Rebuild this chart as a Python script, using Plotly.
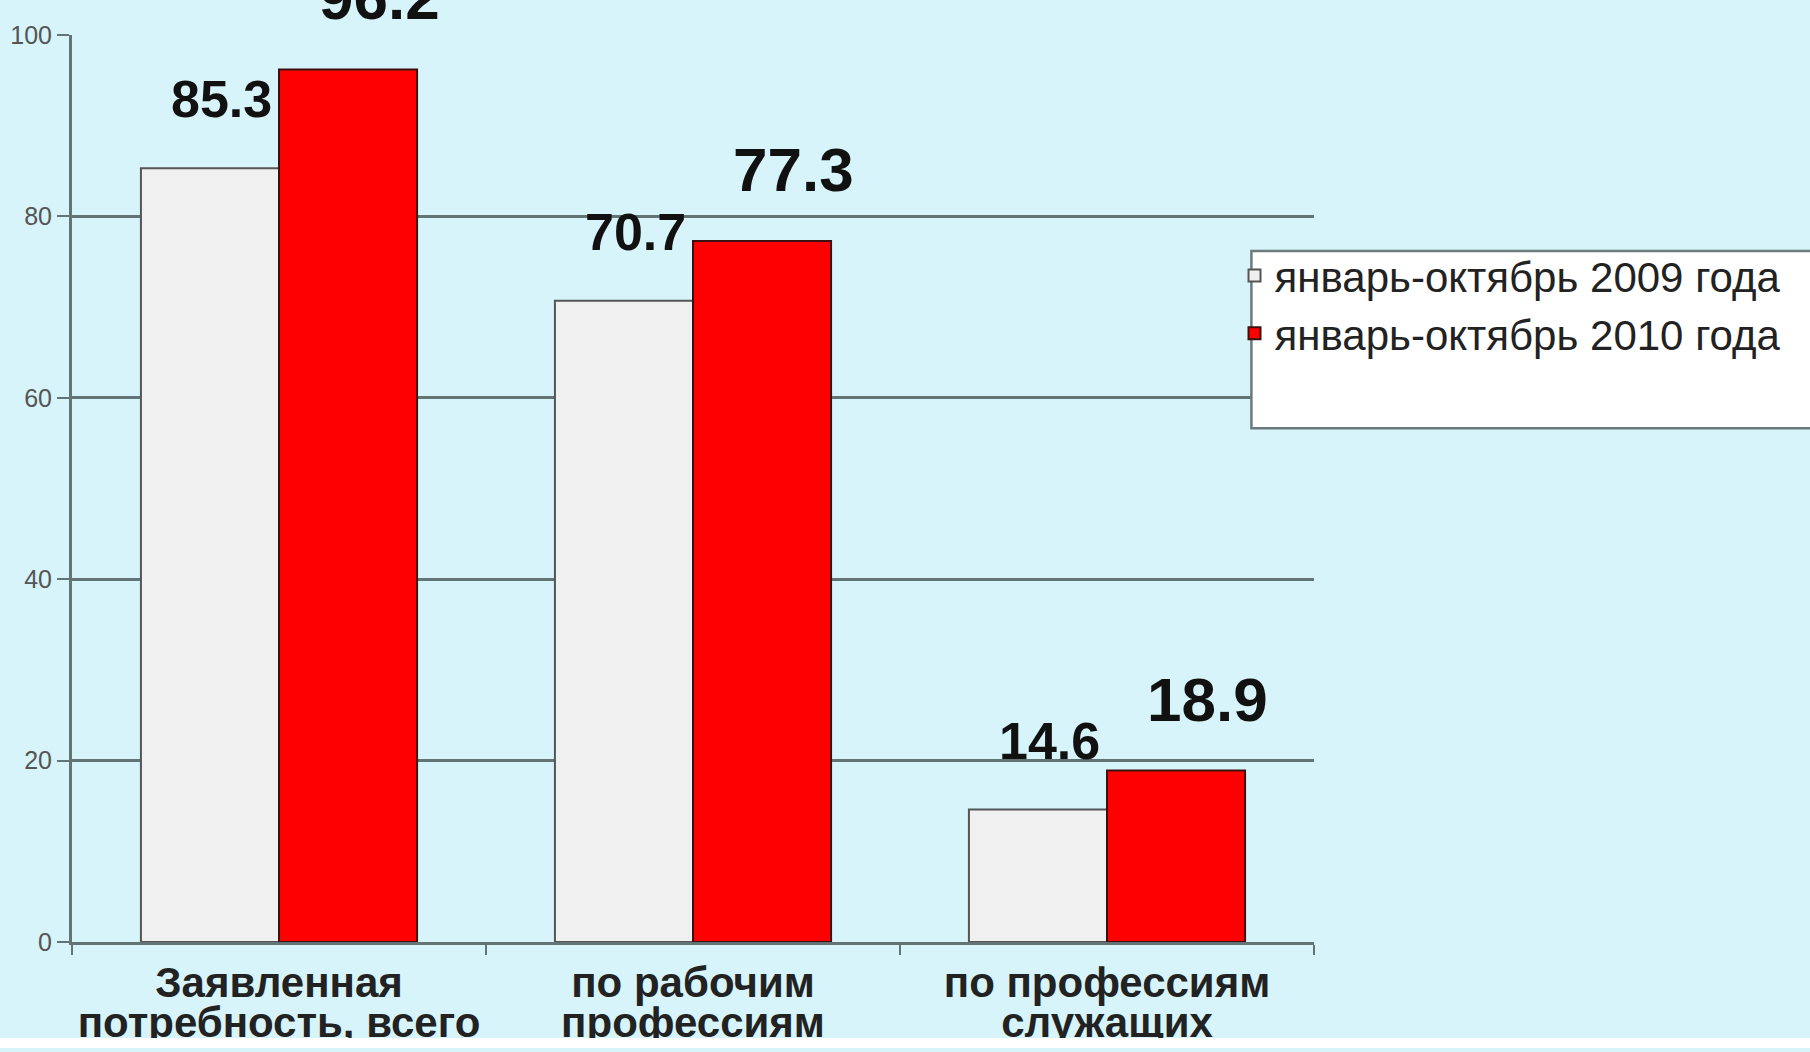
import plotly.graph_objects as go

categories = ["Заявленная потребность, всего", "по рабочим профессиям", "по профессиям служащих"]
tick_line1 = ["Заявленная", "по рабочим", "по профессиям"]
tick_line2 = ["потребность, всего", "профессиям", "служащих"]
series_names = ["январь-октябрь 2009 года", "январь-октябрь 2010 года"]
values_2009 = [85.3, 70.7, 14.6]
values_2010 = [96.2, 77.3, 18.9]
y_ticks = [0, 20, 40, 60, 80, 100]

FONT = "Liberation Sans, Arial, sans-serif"
BG = "#d6f4f9"
GRID = "#627476"
XFONT = dict(family=FONT, size=42, color="#222222", weight="bold")

fig = go.Figure()
fig.add_trace(go.Bar(
    x=categories, y=values_2009, name=series_names[0],
    marker=dict(color="#f0f0f0", line=dict(color="#555555", width=2)),
))
fig.add_trace(go.Bar(
    x=categories, y=values_2010, name=series_names[1],
    marker=dict(color="#ff0000", line=dict(color="#3a1010", width=2)),
))
# invisible helper trace so the second-line category axis is drawn
fig.add_trace(go.Scatter(
    x=categories, y=[0] * len(categories), xaxis="x2", yaxis="y",
    mode="markers", marker=dict(opacity=0), showlegend=False, hoverinfo="skip",
))

# value labels
for c, v in zip(categories, values_2009):
    fig.add_annotation(x=c, y=v, xref="x", yref="y", text=f"{v:.1f}",
                       showarrow=False, yanchor="bottom", xanchor="center",
                       xshift=-58, yshift=38,
                       font=dict(family=FONT, size=52, color="#111111", weight="bold"))
for c, v in zip(categories, values_2010):
    fig.add_annotation(x=c, y=v, xref="x", yref="y", text=f"{v:.1f}",
                       showarrow=False, yanchor="bottom", xanchor="center",
                       xshift=100, yshift=35,
                       font=dict(family=FONT, size=62, color="#111111", weight="bold"))

# legend box
fig.add_shape(type="rect", xref="paper", yref="paper",
              x0=0.9496, x1=1.42, y0=0.5665, y1=0.7619,
              fillcolor="white", line=dict(color="#6b7b7d", width=2.5), layer="above")
# white strip at the bottom
fig.add_shape(type="rect", xref="paper", yref="paper",
              x0=-0.1, x1=1.45, y0=-0.1168, y1=-0.1058,
              fillcolor="white", line=dict(width=0), layer="above")

fig.update_layout(
    width=1810, height=1052, autosize=False,
    margin=dict(l=72, r=496, t=35, b=110, autoexpand=False),
    paper_bgcolor=BG, plot_bgcolor=BG,
    barmode="group", bargap=0.333, bargroupgap=0,
    font=dict(family=FONT, color="#222222"),
    showlegend=True,
    legend=dict(x=0.936, xanchor="left", y=0.772, yanchor="top",
                bgcolor="rgba(0,0,0,0)", borderwidth=0,
                font=dict(family=FONT, size=42, color="#222222"),
                itemwidth=30, tracegroupgap=0),
    xaxis=dict(type="category", showgrid=False, showline=True, linecolor=GRID, linewidth=3,
               automargin=False, tickvals=categories, ticktext=tick_line1,
               ticks="outside", tickson="boundaries", ticklen=10, tickwidth=2, tickcolor=GRID,
               ticklabelstandoff=2, tickfont=XFONT),
    xaxis2=dict(type="category", overlaying="x", anchor="y", side="bottom",
                categoryarray=categories, range=[-0.5, len(categories) - 0.5],
                tickvals=categories, ticktext=tick_line2,
                showgrid=False, showline=False, zeroline=False, automargin=False,
                ticks="outside", ticklen=10, tickcolor="rgba(0,0,0,0)",
                ticklabelstandoff=34, tickfont=XFONT),
    yaxis=dict(range=[0, 100], tickvals=y_ticks, showgrid=True, gridcolor=GRID, gridwidth=2.5,
               automargin=False,
               zeroline=False, showline=True, linecolor=GRID, linewidth=3,
               ticks="outside", ticklen=12, tickwidth=2, tickcolor=GRID, ticklabelstandoff=0,
               tickfont=dict(family=FONT, size=25, color="#555555")),
)

fig.write_html("out.html", config={"displayModeBar": False},
               post_script="document.body.style.margin='0';document.body.style.overflow='hidden';")
